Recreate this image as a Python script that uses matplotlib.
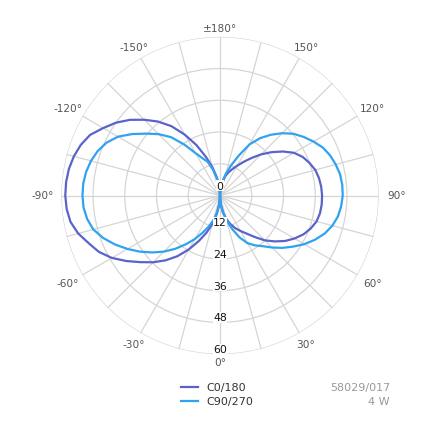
import numpy as np
import matplotlib
matplotlib.use("Agg")
import matplotlib.pyplot as plt
from matplotlib.lines import Line2D

# ---- data (luminous intensity), gamma angles every 5 deg ----
angles = list(range(-180, 181, 5))
c0_180 = [0, 3, 7, 11, 15.5, 21, 26.5, 32, 36.5, 40.5, 44.5, 48, 51,
          54.2, 56, 57.2, 58, 58.4, 58.5, 58.2, 57.4, 55.5, 52.8, 50.5, 47.2,
          43.2, 39.2, 35.7, 32, 28, 23.5, 19, 15, 11, 7.2, 3.6, 0,
          3.4, 6.5, 9.2, 11.5, 13.6, 15.5, 17.6, 20.5, 24, 27, 30, 32.5,
          34.8, 36.5, 37.8, 38.4, 38.6, 38.6, 38.4, 38, 37.3, 36, 34.5, 32.3,
          29, 25.5, 22, 18.5, 15.5, 13, 11, 9.3, 7.5, 5.2, 2.7, 0]
c90_270 = [0, 3, 6.5, 10, 13.5, 15.5, 18.5, 23.5, 28.8, 32.8, 36.4, 40.5, 44.5,
           47.3, 49.2, 50.5, 51.4, 51.9, 52, 51.8, 51, 49.6, 47, 43.8, 40.4,
           37, 33.5, 30, 26.3, 22.5, 19, 15.5, 12.5, 9.6, 6.5, 3.3, 0,
           3.3, 6.5, 9.8, 13.5, 17.5, 20.8, 23, 25, 27.8, 30.8, 33.7, 36.8,
           39.6, 42.1, 44, 45.3, 46, 46.4, 46.4, 46.1, 45.3, 44.3, 42.9, 40.8,
           38.6, 36.3, 33.3, 30, 26.5, 22.3, 16.5, 12, 8.5, 5.5, 2.8, 0]
series_names = ["C0/180", "C90/270"]
series_colors = ["#5b63c9", "#30a2f0"]
r_ticks = [0, 12, 24, 36, 48, 60]
theta_label_angles = [0, 30, 60, 90, 120, 150, 180, -150, -120, -90, -60, -30]
theta_labels = ["0°", "30°", "60°", "90°", "120°", "150°", "±180°",
                "-150°", "-120°", "-90°", "-60°", "-30°"]
info_lines = ["58029/017", "4 W"]

W = H = 435
fig = plt.figure(figsize=(W / 100, H / 100), dpi=100)
fig.patch.set_facecolor("white")

cx, cy, R = 220, 196.5, 158.7
ax = fig.add_axes([(cx - R) / W, (H - cy - R) / H, 2 * R / W, 2 * R / H],
                  projection="polar")
ax.set_theta_zero_location("S")
ax.set_theta_direction(1)
ax.set_ylim(0, 60)
ax.spines["polar"].set_visible(False)
ax.set_facecolor("white")

ax.set_thetagrids(np.arange(0, 360, 15), labels=[""] * 24)
ax.set_rgrids([12, 24, 36, 48, 60], labels=[""] * 5)
ax.grid(True, color="#d5d5d5", linewidth=0.9)
ax.tick_params(axis="both", length=0, pad=0)

th = np.deg2rad(angles)
for vals, col in zip([c0_180, c90_270], series_colors):
    ax.plot(th, vals, color=col, linewidth=1.6, zorder=3, clip_on=False,
            solid_joinstyle="round")

# radial labels
for r in r_ticks:
    off = 10 if r == 0 else 5
    ax.annotate(str(r), xy=(0, r), xytext=(0, off * 0.72), textcoords="offset points",
                ha="center", va="center", fontsize=7.8, color="#111111",
                bbox=dict(boxstyle="square,pad=0.05", fc="white", ec="none"),
                zorder=5)

# angular labels
for a, lab in zip(theta_label_angles, theta_labels):
    t = np.deg2rad(a)
    d = 167 + 10 * abs(np.sin(t))
    x = cx + d * np.sin(t)
    y = cy + d * np.cos(t)
    fig.text(x / W, 1 - y / H, lab, ha="center", va="center",
             fontsize=7.6, color="#555555")

# legend
for i, (name, col) in enumerate(zip(series_names, series_colors)):
    y = 388.3 + 14 * i
    fig.add_artist(Line2D([180.7 / W, 198.3 / W], [1 - y / H, 1 - y / H],
                          color=col, linewidth=1.6))
    fig.text(206.7 / W, 1 - y / H, name, ha="left", va="center",
             fontsize=8, color="#333333")
    fig.text(390 / W, 1 - y / H, info_lines[i], ha="right", va="center",
             fontsize=8, color="#999999")

fig.savefig("out.png", dpi=100, facecolor="white")
